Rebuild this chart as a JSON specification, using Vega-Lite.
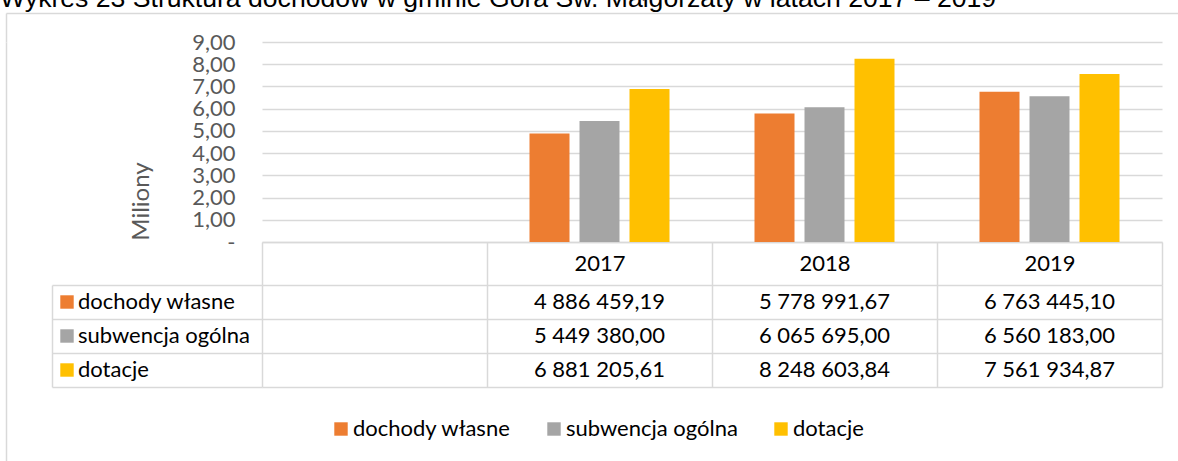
{
  "$schema": "https://vega.github.io/schema/vega-lite/v6.json",
  "padding": {"left": 0, "top": -14, "right": 0, "bottom": 0},
  "title": {
    "text": "Wykres 23 Struktura dochodów w gminie Góra Św. Małgorzaty w latach 2017 – 2019",
    "anchor": "start",
    "frame": "group",
    "font": "Liberation Sans",
    "fontSize": 26.6,
    "fontWeight": "normal",
    "color": "#000000",
    "offset": 0,
    "dx": -6
  },
  "config": {
    "view": {"stroke": null},
    "font": "Lato",
    "locale": {"number": {"decimal": ",", "thousands": " ", "grouping": [3], "currency": ["", " zł"]}}
  },
  "datasets": {
    "dochody": [
      {"year": "2017", "series": "dochody własne", "value": 4886459.19},
      {"year": "2017", "series": "subwencja ogólna", "value": 5449380.00},
      {"year": "2017", "series": "dotacje", "value": 6881205.61},
      {"year": "2018", "series": "dochody własne", "value": 5778991.67},
      {"year": "2018", "series": "subwencja ogólna", "value": 6065695.00},
      {"year": "2018", "series": "dotacje", "value": 8248603.84},
      {"year": "2019", "series": "dochody własne", "value": 6763445.10},
      {"year": "2019", "series": "subwencja ogólna", "value": 6560183.00},
      {"year": "2019", "series": "dotacje", "value": 7561934.87}
    ]
  },
  "data": {"name": "dochody"},
  "bounds": "flush",
  "spacing": 0,
  "vconcat": [
    {
      "width": 1172,
      "height": 29,
      "mark": {"type": "point", "opacity": 0},
      "encoding": {
        "x": {"field": "value", "type": "quantitative", "scale": {"domain": [0, 10000000]},
          "axis": {"orient": "top", "domain": true, "domainColor": "#D9D9D9", "domainWidth": 1.5, "ticks": false, "labels": false, "grid": false, "title": null}},
        "y": {"field": "value", "type": "quantitative", "scale": {"domain": [0, 10000000]},
          "axis": {"orient": "left", "domain": true, "domainColor": "#D9D9D9", "domainWidth": 1.5, "ticks": false, "labels": false, "grid": false, "title": null}}
      }
    },
    {
      "bounds": "flush",
      "spacing": 0,
      "hconcat": [
        {
          "width": 256,
          "height": 420,
          "mark": {"type": "point", "opacity": 0},
          "encoding": {
            "y": {"field": "value", "type": "quantitative", "scale": {"domain": [0, 10000000]},
              "axis": {"orient": "left", "domain": true, "domainColor": "#D9D9D9", "domainWidth": 1.5, "ticks": false, "labels": false, "grid": false, "title": null}}
          }
        },
        {
          "bounds": "flush",
          "spacing": 43,
          "resolve": {"scale": {"color": "independent"}, "legend": {"color": "independent"}},
          "vconcat": [
            {
              "width": 900,
              "height": 200,
              "mark": {"type": "bar"},
              "encoding": {
                "x": {
                  "field": "year", "type": "nominal",
                  "scale": {"domain": ["", "2017", "2018", "2019"], "paddingInner": 0, "paddingOuter": 0},
                  "axis": {"orient": "bottom", "title": null, "domain": true, "domainColor": "#D9D9D9", "domainWidth": 1.5,
                    "ticks": true, "tickBand": "extent", "tickSize": 43, "tickColor": "#D9D9D9", "tickWidth": 1.5,
                    "labelAngle": 0, "labelFontSize": 22, "labelColor": "#000000", "labelPadding": -21.5, "labelBaseline": "middle", "grid": false}
                },
                "xOffset": {
                  "field": "series", "type": "nominal",
                  "scale": {"domain": ["dochody własne", "subwencja ogólna", "dotacje"], "paddingInner": 0.2, "paddingOuter": 0.85}
                },
                "y": {
                  "field": "value", "type": "quantitative",
                  "scale": {"domain": [0, 9000000], "nice": false},
                  "axis": {
                    "values": [0, 1000000, 2000000, 3000000, 4000000, 5000000, 6000000, 7000000, 8000000, 9000000],
                    "labelExpr": "datum.value == 0 ? '-   ' : format(datum.value / 1000000, '.2f')",
                    "title": "Miliony", "titleFontSize": 24, "titleFontWeight": "normal", "titleColor": "#595959",
                    "titleX": -121, "titleY": 159, "titleAngle": 270, "titleAlign": "center", "titleBaseline": "middle",
                    "domain": false, "ticks": false, "grid": true, "gridColor": "#D9D9D9", "gridWidth": 1.5,
                    "labelFontSize": 22, "labelColor": "#595959", "labelPadding": 27
                  }
                },
                "color": {
                  "field": "series", "type": "nominal",
                  "scale": {"domain": ["dochody własne", "subwencja ogólna", "dotacje"], "range": ["#ED7D31", "#A5A5A5", "#FFC000"]},
                  "legend": {"orient": "none", "direction": "horizontal", "legendX": 68, "legendY": 376, "title": null,
                    "symbolType": "square", "symbolSize": 180, "symbolStrokeWidth": 0, "labelFontSize": 22, "labelColor": "#000000",
                    "labelOffset": 1, "columnPadding": 32, "padding": 0, "labelLimit": 400}
                }
              }
            },
            {
              "width": 900,
              "height": 102,
              "layer": [
                {
                  "mark": {"type": "rect", "opacity": 0},
                  "encoding": {
                    "x": {
                      "field": "year", "type": "nominal",
                      "scale": {"domain": ["", "2017", "2018", "2019"], "paddingInner": 0, "paddingOuter": 0},
                      "axis": {"orient": "top", "grid": true, "tickBand": "extent", "gridColor": "#D9D9D9", "gridWidth": 1.5,
                        "labels": false, "ticks": false, "domain": false, "title": null}
                    },
                    "y": {
                      "field": "series", "type": "nominal",
                      "scale": {"domain": ["dochody własne", "subwencja ogólna", "dotacje"], "paddingInner": 0, "paddingOuter": 0},
                      "axis": {"orient": "left", "grid": true, "tickBand": "extent", "gridColor": "#D9D9D9", "gridWidth": 1.5,
                        "ticks": true, "tickSize": 210, "tickColor": "#D9D9D9", "tickWidth": 1.5,
                        "labels": false, "domain": false, "title": null}
                    },
                    "color": {
                      "field": "series", "type": "nominal",
                      "scale": {"domain": ["dochody własne", "subwencja ogólna", "dotacje"], "range": ["#ED7D31", "#A5A5A5", "#FFC000"]},
                      "legend": {"orient": "none", "direction": "vertical", "legendX": -206, "legendY": 6, "title": null,
                        "symbolType": "square", "symbolSize": 180, "symbolOpacity": 1, "symbolStrokeWidth": 0,
                        "labelFontSize": 22, "labelColor": "#000000", "labelOffset": 0, "rowPadding": 12, "padding": 0, "labelLimit": 400}
                    }
                  }
                },
                {
                  "mark": {"type": "text", "fontSize": 22, "color": "#000000", "align": "center", "baseline": "middle"},
                  "encoding": {
                    "x": {"field": "year", "type": "nominal"},
                    "y": {
                      "field": "series", "type": "nominal",
                      "axis": {"orient": "left", "offset": 210, "domain": true, "domainColor": "#D9D9D9", "domainWidth": 1.5,
                        "labels": false, "ticks": false, "grid": false, "title": null}
                    },
                    "text": {"field": "value", "type": "quantitative", "format": ",.2f"}
                  }
                }
              ],
              "resolve": {"axis": {"y": "independent"}}
            }
          ]
        }
      ]
    }
  ]
}
